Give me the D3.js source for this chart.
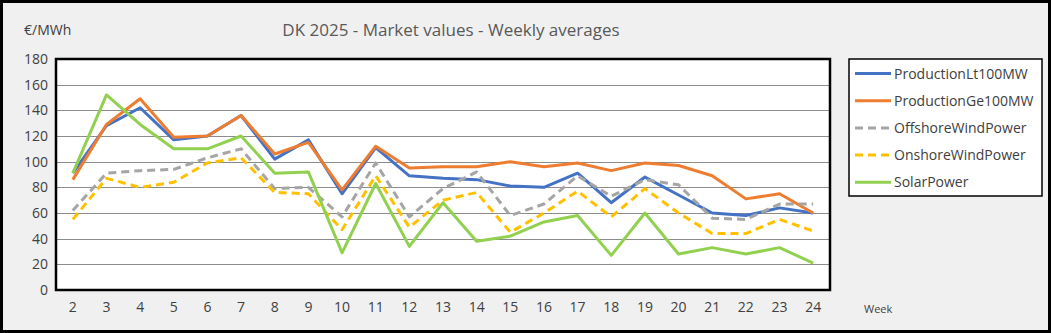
<!DOCTYPE html>
<html><head><meta charset="utf-8">
<script src="https://cdn.jsdelivr.net/npm/d3@7"></script>
<style>
html,body{margin:0;padding:0;background:#f0f0f0;}
svg{display:block;font-family:Carlito,Calibri,"Open Sans","Noto Sans",sans-serif;}
</style></head>
<body>
<svg id="c" width="1051" height="333"></svg>
<script>
const weeks = [2,3,4,5,6,7,8,9,10,11,12,13,14,15,16,17,18,19,20,21,22,23,24];
const yTicks = [0,20,40,60,80,100,120,140,160,180];
const productionLt100MW = [91,128,142,117,120,136,102,117,75,111,89,87,86,81,80,91,68,88,74,60,58,64,60];
const productionGe100MW = [86,129,149,119,120,136,106,115,78,112,95,96,96,100,96,99,93,99,97,89,71,75,60];
const offshoreWindPower = [62,91,93,94,103,110,79,80,57,99,57,79,92,58,67,89,73,86,82,56,55,67,67];
const onshoreWindPower  = [55,87,80,84,99,103,76,75,47,89,49,70,76,45,60,77,57,79,60,44,44,55,46];
const solarPower        = [91,152,129,110,110,120,91,92,29,83,34,68,38,42,53,58,27,60,28,33,28,33,21];

const seriesNames = ["ProductionLt100MW","ProductionGe100MW","OffshoreWindPower","OnshoreWindPower","SolarPower"];
const seriesValues = [productionLt100MW, productionGe100MW, offshoreWindPower, onshoreWindPower, solarPower];
const colors = ["#4472C4","#ED7D31","#A5A5A5","#FFC000","#92D050"];
const dashes = [null,null,"8,5","8,5",null];

const svg = d3.select("#c");
// outer frame
svg.append("rect").attr("x",1.5).attr("y",1.5).attr("width",1048).attr("height",330)
  .attr("fill","#f0f0f0").attr("stroke","#000").attr("stroke-width",3);

const L=56, T=59, R=830, B=290;
const x = d3.scaleBand().domain(weeks).range([L,R]);
const y = d3.scaleLinear().domain([0,180]).range([B,T]);

svg.append("rect").attr("x",L).attr("y",T).attr("width",R-L).attr("height",B-T).attr("fill","#fff");

// gridlines
svg.append("g").selectAll("line").data(yTicks.filter(d=>d>0&&d<180)).join("line")
  .attr("x1",L).attr("x2",R).attr("y1",d=>Math.round(y(d))+0.5).attr("y2",d=>Math.round(y(d))+0.5)
  .attr("stroke","#8c8c8c").attr("stroke-width",1);

// y axis labels
const yAxis = d3.axisLeft(y).tickValues(yTicks).tickSize(0).tickPadding(8);
const gy = svg.append("g").attr("transform",`translate(${L},0)`).call(yAxis);
gy.select(".domain").remove();
gy.selectAll("text").attr("font-size","14px").attr("fill","#404040")
  .attr("font-family","'Open Sans','Noto Sans',sans-serif").attr("dx",0);

// x axis labels
const xAxis = d3.axisBottom(x).tickSize(0).tickPadding(12);
const gx = svg.append("g").attr("transform",`translate(0,${B})`).call(xAxis);
gx.select(".domain").remove();
gx.selectAll("text").attr("font-size","14px").attr("fill","#404040")
  .attr("font-family","'Open Sans','Noto Sans',sans-serif");

// lines
const line = d3.line().x((d,i)=>x(weeks[i])+x.bandwidth()/2).y(d=>y(d));
seriesValues.forEach((vals,k)=>{
  svg.append("path").datum(vals).attr("d",line).attr("fill","none")
    .attr("stroke",colors[k]).attr("stroke-width",3).attr("stroke-linejoin","round")
    .attr("stroke-dasharray",dashes[k]);
});

// plot border
svg.append("rect").attr("x",L).attr("y",T).attr("width",R-L).attr("height",B-T)
  .attr("fill","none").attr("stroke","#000").attr("stroke-width",2.5);

// title and labels
svg.append("text").attr("x",451).attr("y",36).attr("text-anchor","middle")
  .attr("font-size","17px").attr("fill","#595959")
  .attr("font-family","'Open Sans','Noto Sans',sans-serif")
  .text("DK 2025 - Market values - Weekly averages");
svg.append("text").attr("x",24).attr("y",35).attr("font-size","14px").attr("fill","#404040")
  .attr("font-family","'Open Sans','Noto Sans',sans-serif").text("€/MWh");
svg.append("text").attr("x",864).attr("y",313).attr("font-size","11px").attr("fill","#404040")
  .attr("font-family","'Open Sans','Noto Sans',sans-serif").text("Week");

// legend
const lg = svg.append("g");
lg.append("rect").attr("x",849).attr("y",59).attr("width",193).attr("height",137)
  .attr("fill","#fff").attr("stroke","#000").attr("stroke-width",1.5);
seriesNames.forEach((n,k)=>{
  const yy = 73.5 + k*27.2;
  lg.append("line").attr("x1",855).attr("x2",891).attr("y1",yy).attr("y2",yy)
    .attr("stroke",colors[k]).attr("stroke-width",3).attr("stroke-dasharray",dashes[k]);
  lg.append("text").attr("x",894).attr("y",yy+5).attr("font-size","14px").attr("fill","#404040")
    .attr("font-family","'Open Sans','Noto Sans',sans-serif").text(n);
});
</script>
</body></html>
